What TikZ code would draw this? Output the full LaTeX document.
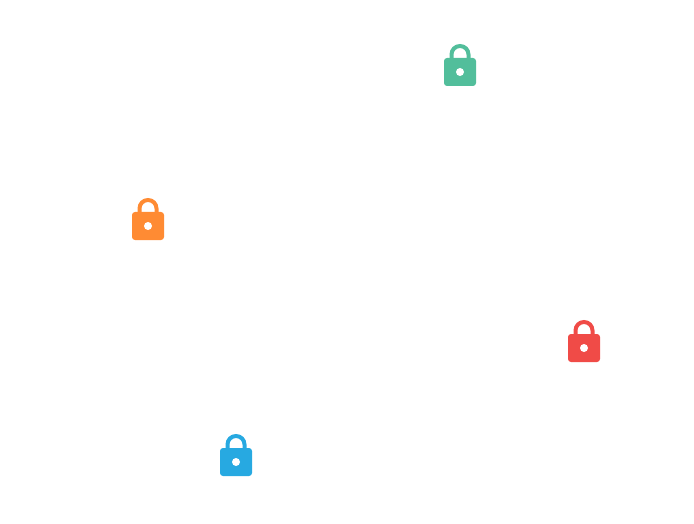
\documentclass[tikz,border=0pt]{standalone}
\usepackage{tikz}
\definecolor{lockgreen}{HTML}{52BE9B}
\definecolor{lockorange}{HTML}{FF8B33}
\definecolor{lockred}{HTML}{F04B47}
\definecolor{lockblue}{HTML}{27A9E1}
\tikzset{%
  pics/lock/.style={
    code={
      \draw[#1, line width=4pt] (-8.5,-12) -- (-8.5,-17.5) arc (180:360:8.5) -- (8.5,-12);
      \fill[#1, rounded corners=3pt] (-16,-14) rectangle (16,14);
      \fill[white] (0,0) circle (4);
    }
  },
}
\begin{document}
\begin{tikzpicture}[x=1pt, y=-1pt]
\useasboundingbox (0,0) rectangle (694,524);
    \foreach \x/\y/\c in {460/72/lockgreen, 148/226/lockorange, 584/348/lockred, 236/462/lockblue}
        \pic at (\x,\y) {lock=\c};
\end{tikzpicture}
\end{document}
